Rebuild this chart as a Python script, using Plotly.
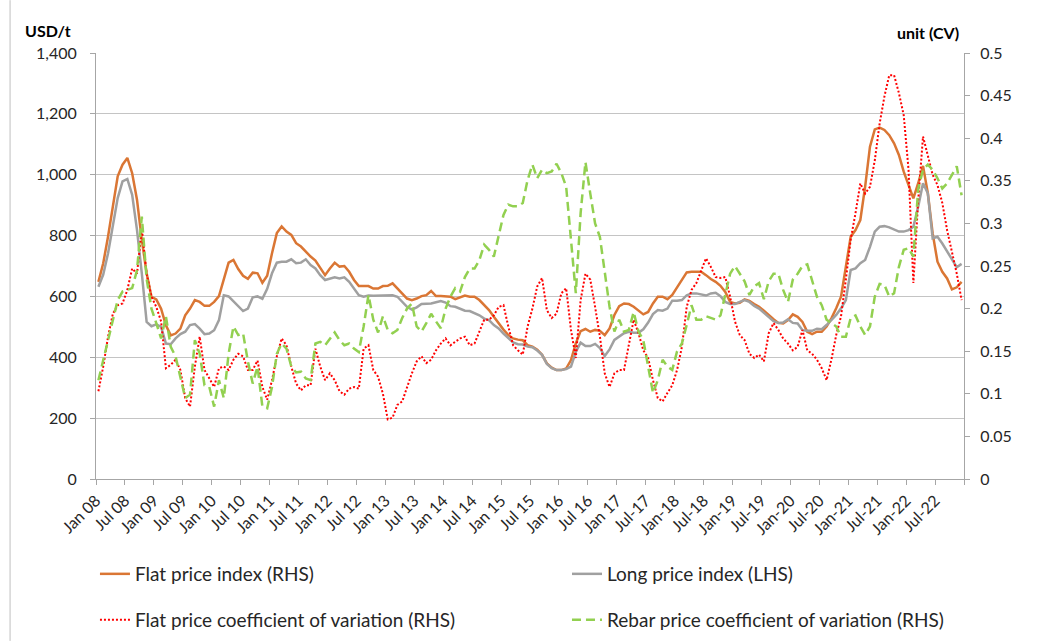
import plotly.graph_objects as go

# ---- data (monthly, Jan 2008 - Dec 2022) ----
flat_price = [
    648, 709, 797, 890, 995, 1033, 1055, 1005, 918, 786, 676, 599,
    590, 560, 505, 472, 478, 494, 538, 560, 588, 582, 569, 569,
    582, 601, 654, 711, 720, 690, 668, 658, 678, 676, 645, 668,
    742, 808, 830, 813, 802, 775, 764, 747, 731, 718, 692, 670,
    692, 711, 698, 700, 681, 654, 634, 634, 634, 626, 626, 634,
    635, 643, 626, 607, 593, 588, 593, 601, 604, 618, 601, 601,
    599, 599, 591, 596, 603, 599, 599, 588, 571, 555, 533, 511,
    491, 473, 462, 458, 456, 440, 435, 425, 408, 380, 366, 358,
    358, 363, 391, 446, 486, 493, 484, 490, 487, 473, 495, 539,
    568, 577, 575, 566, 555, 541, 549, 577, 599, 599, 591, 605,
    630, 655, 679, 681, 681, 681, 670, 657, 648, 635, 615, 582,
    577, 579, 590, 585, 575, 566, 553, 538, 525, 513, 511, 522,
    541, 533, 516, 484, 476, 484, 484, 501, 528, 561, 599, 698,
    796, 818, 851, 961, 1092, 1149, 1155, 1147, 1130, 1103, 1065, 1010,
    966, 922, 972, 1029, 939, 807, 714, 681, 659, 623, 630, 648,
]
long_price = [
    632, 672, 742, 835, 923, 978, 986, 934, 819, 676, 516, 502,
    508, 500, 445, 443, 462, 476, 484, 506, 509, 494, 476, 478,
    489, 522, 604, 600, 585, 568, 552, 560, 597, 600, 592, 625,
    676, 711, 714, 714, 722, 709, 711, 722, 703, 692, 670, 654,
    659, 663, 659, 663, 648, 626, 604, 599, 603, 602, 602, 604,
    602, 604, 599, 582, 566, 557, 564, 575, 575, 577, 581, 585,
    580, 568, 566, 560, 553, 552, 546, 538, 527, 522, 506, 495,
    478, 462, 449, 443, 442, 435, 433, 422, 408, 378, 364, 358,
    358, 361, 369, 418, 448, 437, 437, 444, 430, 404, 426, 457,
    468, 479, 484, 481, 481, 492, 514, 542, 555, 553, 560, 586,
    586, 588, 604, 610, 610, 607, 603, 610, 612, 601, 582, 575,
    575, 582, 588, 582, 569, 560, 546, 533, 519, 513, 514, 525,
    513, 511, 489, 487, 487, 494, 492, 506, 523, 539, 561, 588,
    687, 692, 709, 720, 763, 813, 829, 831, 827, 820, 813, 813,
    818, 829, 895, 972, 939, 791, 796, 774, 747, 720, 696, 707,
]
flat_cv = [
    0.103, 0.132, 0.167, 0.194, 0.204, 0.206, 0.222, 0.247, 0.241, 0.294, 0.241, 0.214,
    0.202, 0.185, 0.130, 0.134, 0.140, 0.128, 0.095, 0.085, 0.132, 0.167, 0.128, 0.118,
    0.108, 0.130, 0.132, 0.128, 0.140, 0.147, 0.144, 0.128, 0.128, 0.139, 0.108, 0.093,
    0.116, 0.144, 0.165, 0.157, 0.132, 0.112, 0.104, 0.110, 0.110, 0.153, 0.132, 0.116,
    0.124, 0.116, 0.103, 0.099, 0.106, 0.108, 0.106, 0.153, 0.157, 0.128, 0.120, 0.100,
    0.070, 0.072, 0.087, 0.091, 0.108, 0.124, 0.138, 0.144, 0.136, 0.140, 0.151, 0.159,
    0.165, 0.157, 0.161, 0.165, 0.167, 0.157, 0.159, 0.173, 0.187, 0.187, 0.192, 0.202,
    0.204, 0.179, 0.157, 0.151, 0.146, 0.179, 0.200, 0.226, 0.236, 0.198, 0.189, 0.194,
    0.218, 0.224, 0.175, 0.142, 0.210, 0.241, 0.234, 0.202, 0.167, 0.124, 0.108, 0.124,
    0.128, 0.128, 0.159, 0.187, 0.171, 0.151, 0.142, 0.116, 0.095, 0.091, 0.101, 0.110,
    0.128, 0.155, 0.202, 0.222, 0.230, 0.245, 0.259, 0.249, 0.237, 0.236, 0.237, 0.214,
    0.185, 0.169, 0.163, 0.147, 0.142, 0.146, 0.138, 0.171, 0.183, 0.175, 0.165, 0.159,
    0.151, 0.155, 0.175, 0.151, 0.147, 0.140, 0.130, 0.116, 0.140, 0.169, 0.191, 0.234,
    0.281, 0.312, 0.347, 0.335, 0.343, 0.374, 0.417, 0.449, 0.474, 0.474, 0.453, 0.427,
    0.363, 0.230, 0.327, 0.402, 0.378, 0.357, 0.345, 0.324, 0.292, 0.267, 0.241, 0.210,
]
rebar_cv = [
    0.116, 0.140, 0.161, 0.187, 0.210, 0.220, 0.222, 0.224, 0.245, 0.308, 0.235, 0.200,
    0.183, 0.165, 0.191, 0.155, 0.144, 0.118, 0.095, 0.099, 0.163, 0.147, 0.110, 0.108,
    0.085, 0.116, 0.095, 0.147, 0.179, 0.169, 0.171, 0.138, 0.112, 0.132, 0.085, 0.083,
    0.108, 0.147, 0.159, 0.153, 0.132, 0.125, 0.126, 0.118, 0.116, 0.159, 0.161, 0.157,
    0.165, 0.172, 0.163, 0.157, 0.159, 0.153, 0.149, 0.179, 0.216, 0.187, 0.172, 0.191,
    0.175, 0.171, 0.175, 0.189, 0.200, 0.206, 0.179, 0.173, 0.183, 0.194, 0.185, 0.177,
    0.200, 0.214, 0.224, 0.220, 0.237, 0.247, 0.247, 0.257, 0.275, 0.269, 0.261, 0.284,
    0.310, 0.322, 0.320, 0.320, 0.324, 0.351, 0.369, 0.353, 0.363, 0.359, 0.361, 0.370,
    0.359, 0.343, 0.277, 0.218, 0.312, 0.372, 0.335, 0.300, 0.284, 0.241, 0.202, 0.173,
    0.187, 0.173, 0.175, 0.196, 0.173, 0.163, 0.132, 0.101, 0.116, 0.140, 0.132, 0.128,
    0.150, 0.159, 0.181, 0.204, 0.187, 0.187, 0.191, 0.189, 0.187, 0.192, 0.218, 0.241,
    0.250, 0.241, 0.232, 0.216, 0.226, 0.230, 0.211, 0.232, 0.241, 0.241, 0.222, 0.208,
    0.234, 0.241, 0.250, 0.252, 0.234, 0.214, 0.204, 0.187, 0.183, 0.179, 0.167, 0.167,
    0.189, 0.192, 0.179, 0.169, 0.179, 0.214, 0.229, 0.228, 0.214, 0.218, 0.249, 0.269,
    0.271, 0.261, 0.340, 0.363, 0.369, 0.363, 0.353, 0.341, 0.347, 0.357, 0.367, 0.333,
]
tick_labels = [
    "Jan 08", "Jul 08", "Jan 09", "Jul 09", "Jan 10", "Jul 10", "Jan 11", "Jul 11",
    "Jan 12", "Jul 12", "Jan 13", "Jul 13", "Jan 14", "Jul 14", "Jan 15", "Jul 15",
    "Jan 16", "Jul 16", "Jan 17", "Jul-17", "Jan-18", "Jul-18", "Jan-19", "Jul-19",
    "Jan-20", "Jul-20", "Jan-21", "Jul-21", "Jan-22", "Jul-22",
]
left_ticks = [0, 200, 400, 600, 800, 1000, 1200, 1400]
right_ticks = [0, 0.05, 0.1, 0.15, 0.2, 0.25, 0.3, 0.35, 0.4, 0.45, 0.5]

months = list(range(len(flat_price)))
FONT = "Lato"
TXT = "#262626"
AX = "#A6A6A6"

fig = go.Figure()
fig.add_trace(go.Scatter(x=months, y=flat_price, name="Flat price index (RHS)",
                         mode="lines", line=dict(color="#DA7634", width=2.5),
                         legend="legend"))
fig.add_trace(go.Scatter(x=months, y=long_price, name="Long price index (LHS)",
                         mode="lines", line=dict(color="#A0A0A0", width=2.5),
                         legend="legend2"))
fig.add_trace(go.Scatter(x=months, y=flat_cv, name="Flat price coefficient of variation (RHS)",
                         mode="lines", yaxis="y2",
                         line=dict(color="#FF0000", width=2, dash="2px,2px"),
                         legend="legend3"))
fig.add_trace(go.Scatter(x=months, y=rebar_cv, name="Rebar price coefficient of variation (RHS)",
                         mode="lines", yaxis="y2",
                         line=dict(color="#92D050", width=2.5, dash="9px,5px"),
                         legend="legend4"))

tickvals_x = [6 * k - 0.5 for k in range(len(tick_labels) + 1)]
ticktext_x = tick_labels + [""]


def leg(x, y):
    return dict(orientation="h", x=x, y=y, xanchor="left", yanchor="middle",
                itemwidth=30, font=dict(size=19, family=FONT, color=TXT),
                bgcolor="rgba(0,0,0,0)", borderwidth=0, visible=True)


fig.update_layout(
    width=1055, height=641, autosize=False, showlegend=True,
    margin=dict(l=96, r=91, t=53, b=162, autoexpand=False),
    plot_bgcolor="white", paper_bgcolor="white",
    font=dict(family=FONT, color=TXT),
    xaxis=dict(range=[-0.5, len(months) - 0.5], tickvals=tickvals_x, ticktext=ticktext_x,
               tickangle=-45, ticks="outside", ticklen=5, tickcolor=AX, automargin=False,
               showline=True, linecolor=AX, linewidth=1, showgrid=False, zeroline=False,
               tickfont=dict(size=16, family=FONT, color=TXT)),
    yaxis=dict(range=[0, 1400], tickvals=left_ticks, tickformat=",", automargin=False,
               showgrid=True, gridcolor="#C4C4C4", gridwidth=1,
               showline=True, linecolor=AX, ticks="outside", ticklen=5, tickcolor=AX,
               ticklabelstandoff=10,
               zeroline=False, tickfont=dict(size=16, family=FONT, color=TXT)),
    yaxis2=dict(range=[0, 0.5], overlaying="y", side="right", tickvals=right_ticks,
                ticktext=[f"{v:g}" for v in right_ticks], showgrid=False, automargin=False,
                showline=True, linecolor=AX, ticks="outside", ticklen=5, tickcolor=AX,
                ticklabelstandoff=7,
                zeroline=False, tickfont=dict(size=16, family=FONT, color=TXT)),
    legend=leg(-0.0012, -0.223),
    legend2=leg(0.5426, -0.223),
    legend3=leg(-0.0012, -0.331),
    legend4=leg(0.5426, -0.331),
    annotations=[
        dict(text="<b>USD/t</b>", xref="paper", yref="paper", x=-0.0553, y=1.052,
             xanchor="center", yanchor="middle",
             showarrow=False, font=dict(size=16, family=FONT, color="#000000")),
        dict(text="<b>unit (CV)</b>", xref="paper", yref="paper", x=0.9589, y=1.047,
             xanchor="center", yanchor="middle",
             showarrow=False, font=dict(size=16, family=FONT, color="#000000")),
    ],
    shapes=[
        dict(type="line", xref="paper", yref="paper", x0=-0.099, x1=-0.099,
             y0=-0.38, y1=1.124, line=dict(color="#BFBFBF", width=1)),
    ],
)

fig.write_html("out.html", config={"displayModeBar": False},
               post_script="document.body.style.margin='0';")
